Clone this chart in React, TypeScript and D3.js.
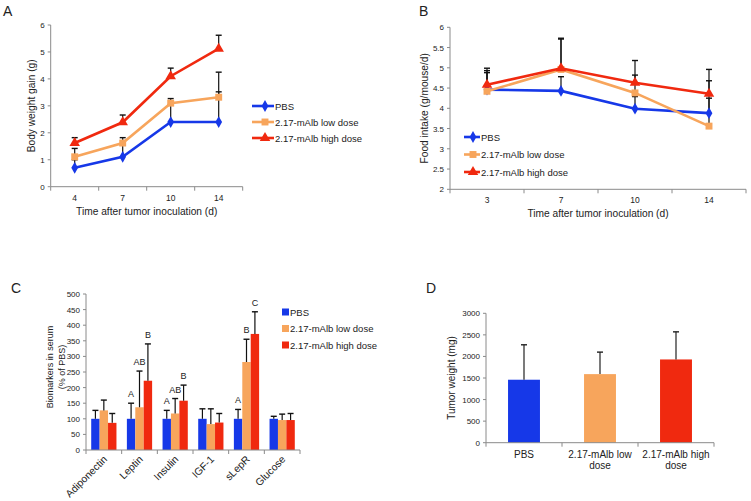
import React from "react";
import * as d3 from "d3";

// ---------- DATA ----------
const seriesNames = ["PBS", "2.17-mAlb low dose", "2.17-mAlb high dose"];

const daysA = ["4", "7", "10", "14"];
const weightPBS = [0.7, 1.11, 2.4, 2.4];
const weightLow = [1.11, 1.62, 3.1, 3.32];
const weightHigh = [1.62, 2.39, 4.1, 5.12];
const weightPBSTop = [1.0, 1.55, 3.05, 3.52];
const weightLowTop = [1.42, 1.82, 3.27, 4.25];
const weightHighTop = [1.82, 2.66, 4.4, 5.62];
const ticksA = [0, 1, 2, 3, 4, 5, 6];

const daysB = ["3", "7", "10", "14"];
const foodPBS = [4.46, 4.43, 3.99, 3.88];
const foodLow = [4.42, 4.96, 4.38, 3.56];
const foodHigh = [4.58, 4.99, 4.63, 4.36];
const foodPBSTop = [4.88, 4.78, 4.29, 4.68];
const foodLowTop = [4.93, 5.71, 4.82, 4.25];
const foodHighTop = [4.99, 5.73, 5.18, 4.96];
const ticksB = [2, 2.5, 3, 3.5, 4, 4.5, 5, 5.5, 6];

const markers = ["Adiponectin", "Leptin", "Insulin", "IGF-1", "sLepR", "Glucose"];
const bioPBS = [100, 100, 100, 100, 100, 100];
const bioLow = [127, 137, 117, 83, 282, 96];
const bioHigh = [87, 222, 158, 88, 372, 96];
const bioPBSTop = [127, 150, 127, 132, 130, 108];
const bioLowTop = [160, 253, 165, 132, 355, 115];
const bioHighTop = [117, 340, 208, 117, 443, 117];
const bioPBSLetters = ["", "A", "A", "", "A", ""];
const bioLowLetters = ["", "AB", "AB", "", "B", ""];
const bioHighLetters = ["", "B", "B", "", "C", ""];
const ticksC = [0, 50, 100, 150, 200, 250, 300, 350, 400, 450, 500];

const groupsD = [["PBS"], ["2.17-mAlb low", "dose"], ["2.17-mAlb high", "dose"]];
const tumorMean = [1460, 1590, 1930];
const tumorTop = [2270, 2100, 2570];
const ticksD = [0, 500, 1000, 1500, 2000, 2500, 3000];

// ---------- STYLE ----------
const COLORS = ["#1638e8", "#f7a55c", "#f0290f"];
const AXIS = "#8a8a8a";
const TXT = "#222";
const FONT = "'Liberation Sans', Arial, Helvetica, sans-serif";

const symbolTypes = [d3.symbolDiamond, d3.symbolSquare, d3.symbolTriangle];
const symbolSizes = [40, 48, 48];

function YAxis({ y, x, ticks, fmt }: any) {
  const [r0, r1] = y.range();
  return (
    <g>
      <line x1={x} x2={x} y1={r0} y2={r1} stroke={AXIS} strokeWidth={1} />
      {ticks.map((t: number) => (
        <g key={t}>
          <line x1={x - 3} x2={x} y1={y(t)} y2={y(t)} stroke={AXIS} />
          <text x={x - 6} y={y(t) + 3} textAnchor="end" fontSize={8} fill={TXT}>
            {fmt ? fmt(t) : t}
          </text>
        </g>
      ))}
    </g>
  );
}

function XAxisBands({ xs, y }: any) {
  const dom = xs.domain();
  const [a, b] = xs.range();
  const edges = [a, ...dom.map((d: string) => xs(d) + xs.bandwidth())];
  return (
    <g>
      <line x1={a} x2={b} y1={y} y2={y} stroke={AXIS} />
      {edges.map((e: number, i: number) => (
        <line key={i} x1={e} x2={e} y1={y} y2={y + 4} stroke={AXIS} />
      ))}
    </g>
  );
}

function LinePanel({ days, series, tops, yDom, ticks, xRange, yRange, yTitle, yTitleX, legend }: any) {
  const xs = d3.scaleBand().domain(days).range(xRange).paddingInner(0).paddingOuter(0);
  const y = d3.scaleLinear().domain(yDom).range(yRange);
  const cx = (d: string) => (xs(d) as number) + xs.bandwidth() / 2;
  const line = d3
    .line<number>()
    .x((_, i) => cx(days[i]))
    .y((v) => y(v));
  const midX = (xRange[0] + xRange[1]) / 2;
  const midY = (yRange[0] + yRange[1]) / 2;
  return (
    <g>
      <YAxis y={y} x={xRange[0]} ticks={ticks} />
      <XAxisBands xs={xs} y={yRange[0]} />
      {days.map((d: string) => (
        <text key={d} x={cx(d)} y={yRange[0] + 14} textAnchor="middle" fontSize={8.5} fill={TXT}>
          {d}
        </text>
      ))}
      <text x={midX} y={yRange[0] + 28} textAnchor="middle" fontSize={10.2} fill={TXT}>
        Time after tumor inoculation (d)
      </text>
      <text
        transform={`translate(${yTitleX},${midY}) rotate(-90)`}
        textAnchor="middle"
        fontSize={10.2}
        fill={TXT}
      >
        {yTitle}
      </text>
      {/* error bars */}
      {series.map((vals: number[], si: number) =>
        vals.map((v: number, i: number) => {
          const x = cx(days[i]);
          const t = tops[si][i];
          return (
            <g key={`e${si}-${i}`}>
              <line x1={x} x2={x} y1={y(v)} y2={y(t)} stroke="#111" strokeWidth={1.2} />
              <line x1={x - 3} x2={x + 3} y1={y(t)} y2={y(t)} stroke="#111" strokeWidth={1.4} />
            </g>
          );
        })
      )}
      {series.map((vals: number[], si: number) => (
        <g key={`s${si}`}>
          <path d={line(vals) as string} fill="none" stroke={COLORS[si]} strokeWidth={2.6} />
          {vals.map((v: number, i: number) => (
            <path
              key={i}
              transform={`translate(${cx(days[i])},${y(v)})`}
              d={d3.symbol(symbolTypes[si], symbolSizes[si])() as string}
              fill={COLORS[si]}
            />
          ))}
        </g>
      ))}
      {/* legend */}
      {seriesNames.map((n, si) => (
        <g key={n} transform={`translate(${legend.x},${legend.y + si * legend.dy})`}>
          <line x1={0} x2={legend.w} y1={0} y2={0} stroke={COLORS[si]} strokeWidth={2.6} />
          <path
            transform={`translate(${legend.m},0)`}
            d={d3.symbol(symbolTypes[si], symbolSizes[si])() as string}
            fill={COLORS[si]}
          />
          <text x={legend.w + 1} y={3.5} fontSize={9.5} fill={TXT}>
            {n}
          </text>
        </g>
      ))}
    </g>
  );
}

function PanelC() {
  const xs = d3.scaleBand().domain(markers).range([86, 300]);
  const y = d3.scaleLinear().domain([0, 500]).range([450, 294]);
  const inner = d3.scaleBand().domain(["0", "1", "2"]).range([0, xs.bandwidth()]).paddingOuter(0.62).paddingInner(0);
  const vals = [bioPBS, bioLow, bioHigh];
  const tops = [bioPBSTop, bioLowTop, bioHighTop];
  const letters = [bioPBSLetters, bioLowLetters, bioHighLetters];
  return (
    <g>
      <YAxis y={y} x={86} ticks={ticksC} />
      {markers.map((m, mi) =>
        vals.map((sv, si) => {
          const x0 = (xs(m) as number) + (inner(String(si)) as number);
          const w = inner.bandwidth();
          const cx = x0 + w / 2;
          const v = sv[mi];
          const t = tops[si][mi];
          return (
            <g key={`${m}-${si}`}>
              <rect x={x0} y={y(v)} width={w} height={y(0) - y(v)} fill={COLORS[si]} />
              <line x1={cx} x2={cx} y1={y(v)} y2={y(t)} stroke="#111" strokeWidth={1.2} />
              <line x1={cx - 3} x2={cx + 3} y1={y(t)} y2={y(t)} stroke="#111" strokeWidth={1.4} />
              {letters[si][mi] && (
                <text x={cx} y={y(t) - 6} textAnchor="middle" fontSize={9} fill={TXT}>
                  {letters[si][mi]}
                </text>
              )}
            </g>
          );
        })
      )}
      <XAxisBands xs={xs} y={450} />
      {markers.map((m) => {
        const cx = (xs(m) as number) + xs.bandwidth() / 2;
        return (
          <text
            key={m}
            transform={`translate(${cx + 4},${460}) rotate(-45)`}
            textAnchor="end"
            fontSize={10.3}
            fill={TXT}
          >
            {m}
          </text>
        );
      })}
      <text transform={`translate(52.5,367) rotate(-90)`} textAnchor="middle" fontSize={9} fill={TXT}>
        Biomarkers in serum
      </text>
      <text transform={`translate(65,367) rotate(-90)`} textAnchor="middle" fontSize={9} fill={TXT}>
        (% of PBS)
      </text>
      {seriesNames.map((n, si) => (
        <g key={n} transform={`translate(282,${312 + si * 16.5})`}>
          <rect x={0} y={-3.5} width={7} height={7} fill={COLORS[si]} />
          <text x={8} y={3.5} fontSize={9.5} fill={TXT}>
            {n}
          </text>
        </g>
      ))}
    </g>
  );
}

function PanelD() {
  const names = groupsD.map((g) => g.join(" "));
  const xs = d3.scaleBand().domain(names).range([486, 714]).paddingInner(0.58).paddingOuter(0.29);
  const xb = d3.scaleBand().domain(names).range([486, 714]);
  const y = d3.scaleLinear().domain([0, 3000]).range([442.7, 313.3]);
  return (
    <g>
      <YAxis y={y} x={486} ticks={ticksD} />
      {names.map((n, i) => {
        const x0 = xs(n) as number;
        const w = xs.bandwidth();
        const cx = x0 + w / 2;
        return (
          <g key={n}>
            <rect x={x0} y={y(tumorMean[i])} width={w} height={y(0) - y(tumorMean[i])} fill={COLORS[i]} />
            <line x1={cx} x2={cx} y1={y(tumorMean[i])} y2={y(tumorTop[i])} stroke="#222" strokeWidth={1.2} />
            <line x1={cx - 3} x2={cx + 3} y1={y(tumorTop[i])} y2={y(tumorTop[i])} stroke="#222" strokeWidth={1.4} />
          </g>
        );
      })}
      <XAxisBands xs={xb} y={442.7} />
      {names.map((n, i) => {
        const cx = (xb(n) as number) + xb.bandwidth() / 2;
        return (
          <text key={n} textAnchor="middle" fontSize={10} fill={TXT}>
            {groupsD[i].map((l, li) => (
              <tspan key={li} x={cx} y={458 + li * 11}>
                {l}
              </tspan>
            ))}
          </text>
        );
      })}
      <text transform={`translate(455,378) rotate(-90)`} textAnchor="middle" fontSize={10} fill={TXT}>
        Tumor weight (mg)
      </text>
    </g>
  );
}

export default function App() {
  return (
    <svg
      width={751}
      height={501}
      style={{ position: "absolute", left: 0, top: 0, background: "#fff" }}
      fontFamily={FONT}
    >
      <rect width={751} height={501} fill="#fff" />
      <text x={3} y={16} fontSize={14} fill={TXT}>A</text>
      <text x={419} y={16} fontSize={14} fill={TXT}>B</text>
      <text x={11} y={293} fontSize={14} fill={TXT}>C</text>
      <text x={426} y={293} fontSize={14} fill={TXT}>D</text>
      <LinePanel
        days={daysA}
        series={[weightPBS, weightLow, weightHigh]}
        tops={[weightPBSTop, weightLowTop, weightHighTop]}
        yDom={[0, 6]}
        ticks={ticksA}
        xRange={[50.7, 242.7]}
        yRange={[186.7, 25]}
        yTitle="Body weight gain (g)"
        yTitleX={35}
        legend={{ x: 252, y: 106, dy: 16, w: 22, m: 13 }}
      />
      <LinePanel
        days={daysB}
        series={[foodPBS, foodLow, foodHigh]}
        tops={[foodPBSTop, foodLowTop, foodHighTop]}
        yDom={[2, 6]}
        ticks={ticksB}
        xRange={[450, 746]}
        yRange={[189.3, 27.3]}
        yTitle="Food intake (g/mouse/d)"
        yTitleX={428}
        legend={{ x: 464, y: 137, dy: 17.5, w: 16, m: 9 }}
      />
      <PanelC />
      <PanelD />
    </svg>
  );
}
